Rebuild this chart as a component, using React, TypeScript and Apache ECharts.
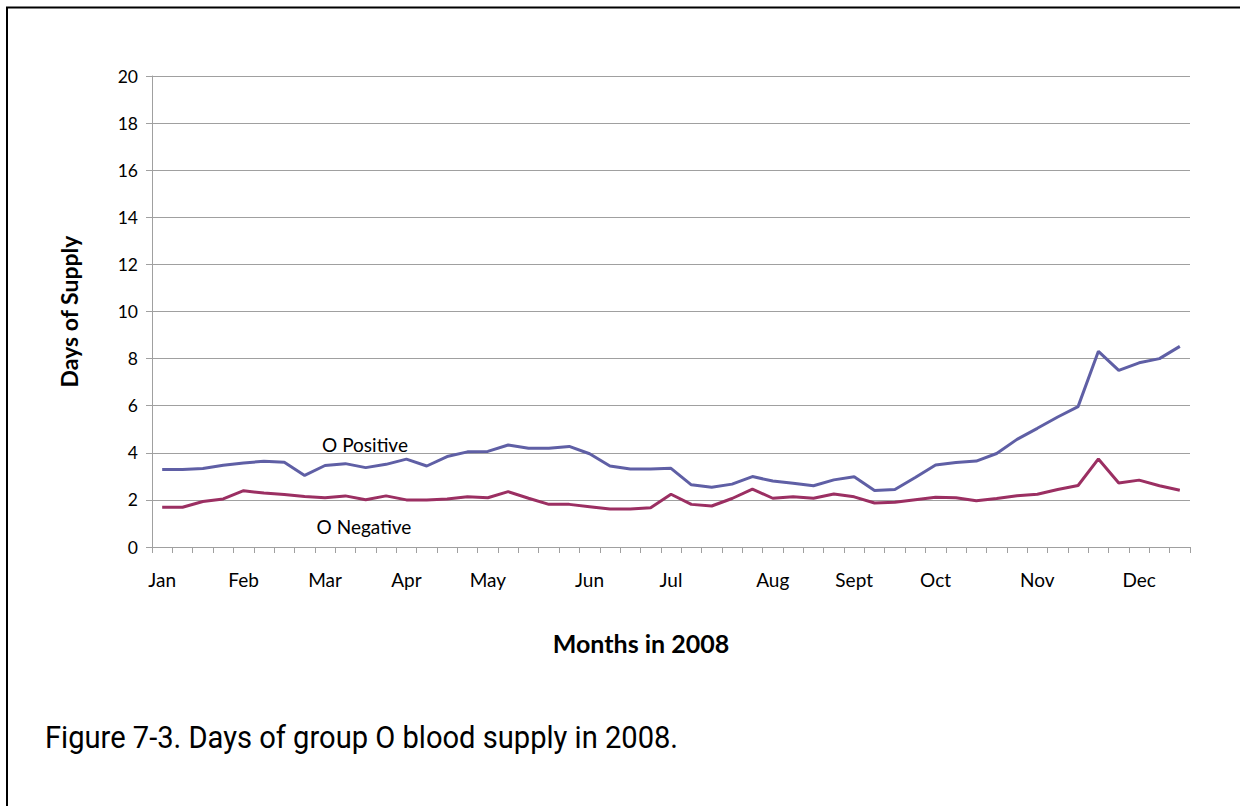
import React, { useEffect, useRef } from "react";
import * as echarts from "echarts";

const oPositive = [3.29, 3.29, 3.33, 3.47, 3.57, 3.64, 3.6, 3.04, 3.46, 3.54, 3.37, 3.51, 3.73, 3.44, 3.84, 4.04, 4.06, 4.33, 4.19, 4.19, 4.27, 3.96, 3.44, 3.31, 3.31, 3.34, 2.64, 2.54, 2.67, 2.99, 2.8, 2.71, 2.6, 2.85, 2.98, 2.4, 2.44, 2.95, 3.48, 3.59, 3.65, 3.97, 4.57, 5.04, 5.52, 5.96, 8.31, 7.5, 7.82, 8.0, 8.52];
const oNegative = [1.69, 1.69, 1.93, 2.04, 2.39, 2.29, 2.23, 2.14, 2.09, 2.17, 2.01, 2.17, 2.0, 2.0, 2.04, 2.13, 2.09, 2.35, 2.07, 1.81, 1.81, 1.71, 1.61, 1.61, 1.67, 2.24, 1.81, 1.74, 2.06, 2.46, 2.07, 2.13, 2.07, 2.25, 2.13, 1.87, 1.9, 2.01, 2.11, 2.09, 1.96, 2.06, 2.18, 2.24, 2.44, 2.61, 3.74, 2.72, 2.84, 2.6, 2.41];
const monthNames = ["Jan", "Feb", "Mar", "Apr", "May", "Jun", "Jul", "Aug", "Sept", "Oct", "Nov", "Dec"];
const monthWeekIndex = [0, 4, 8, 12, 16, 21, 25, 30, 34, 38, 43, 48];
const weeks = oPositive.map((_, i) => `Week ${i + 1}`);

const FONT = "Lato";

export default function App() {
  const ref = useRef<HTMLDivElement>(null);
  useEffect(() => {
    if (!ref.current) return;
    const chart = echarts.init(ref.current, undefined, { renderer: "svg" });
    const labelAt: Record<number, string> = {};
    monthWeekIndex.forEach((w, i) => (labelAt[w] = monthNames[i]));
    chart.setOption({
      animation: false,
      backgroundColor: "#ffffff",
      grid: { left: 152, right: 50, top: 76, bottom: 259, containLabel: false },
      xAxis: {
        type: "category",
        data: weeks,
        boundaryGap: true,
        axisLine: { lineStyle: { color: "#a0a0a0", width: 1 } },
        axisTick: { show: true, interval: 0, length: 6, lineStyle: { color: "#a0a0a0" } },
        axisLabel: {
          interval: 0,
          margin: 23,
          fontFamily: FONT,
          fontSize: 19,
          color: "#000",
          formatter: (_v: string, idx: number) => labelAt[idx] ?? "",
        },
        splitLine: { show: false },
      },
      yAxis: {
        type: "value",
        min: 0,
        max: 20,
        interval: 2,
        name: "Days of Supply",
        nameLocation: "middle",
        nameGap: 72,
        nameRotate: 90,
        nameTextStyle: { fontFamily: FONT, fontWeight: "bold", fontSize: 23, color: "#000" },
        axisLine: { show: true, lineStyle: { color: "#a0a0a0", width: 1 } },
        axisTick: { show: true, length: 6, lineStyle: { color: "#a0a0a0" } },
        axisLabel: { fontFamily: FONT, fontSize: 17.5, color: "#000", margin: 14 },
        splitLine: { lineStyle: { color: "#a0a0a0", width: 1 } },
      },
      series: [
        {
          name: "O Positive",
          type: "line",
          data: oPositive,
          symbol: "none",
          lineStyle: { color: "#5f5fa5", width: 3 },
          itemStyle: { color: "#5f5fa5" },
        },
        {
          name: "O Negative",
          type: "line",
          data: oNegative,
          symbol: "none",
          lineStyle: { color: "#9b2f62", width: 3 },
          itemStyle: { color: "#9b2f62" },
        },
      ],
      graphic: [
        { type: "line", shape: { x1: 6, y1: 7.5, x2: 1240, y2: 7.5 }, style: { stroke: "#000", lineWidth: 2 } },
        { type: "line", shape: { x1: 7, y1: 7, x2: 7, y2: 806 }, style: { stroke: "#000", lineWidth: 2 } },
        {
          type: "text",
          x: 365,
          y: 444,
          style: { text: "O Positive", fontFamily: FONT, fontSize: 19, fill: "#000", align: "center", verticalAlign: "middle" },
        },
        {
          type: "text",
          x: 364,
          y: 526,
          style: { text: "O Negative", fontFamily: FONT, fontSize: 19, fill: "#000", align: "center", verticalAlign: "middle" },
        },
        {
          type: "text",
          x: 641,
          y: 643,
          style: { text: "Months in 2008", fontFamily: FONT, fontWeight: "bold", fontSize: 25, fill: "#000", align: "center", verticalAlign: "middle" },
        },
        {
          type: "text",
          x: 45,
          y: 737,
          scaleX: 0.91,
          style: {
            text: "Figure 7-3. Days of group O blood supply in 2008.",
            fontFamily: "Roboto",
            fontSize: 32,
            fill: "#000",
            align: "left",
            verticalAlign: "middle",
          },
        },
      ],
    });
    return () => chart.dispose();
  }, []);
  return (
    <div
      ref={ref}
      style={{ position: "fixed", left: 0, top: 0, width: 1240, height: 806, background: "#fff" }}
    />
  );
}
